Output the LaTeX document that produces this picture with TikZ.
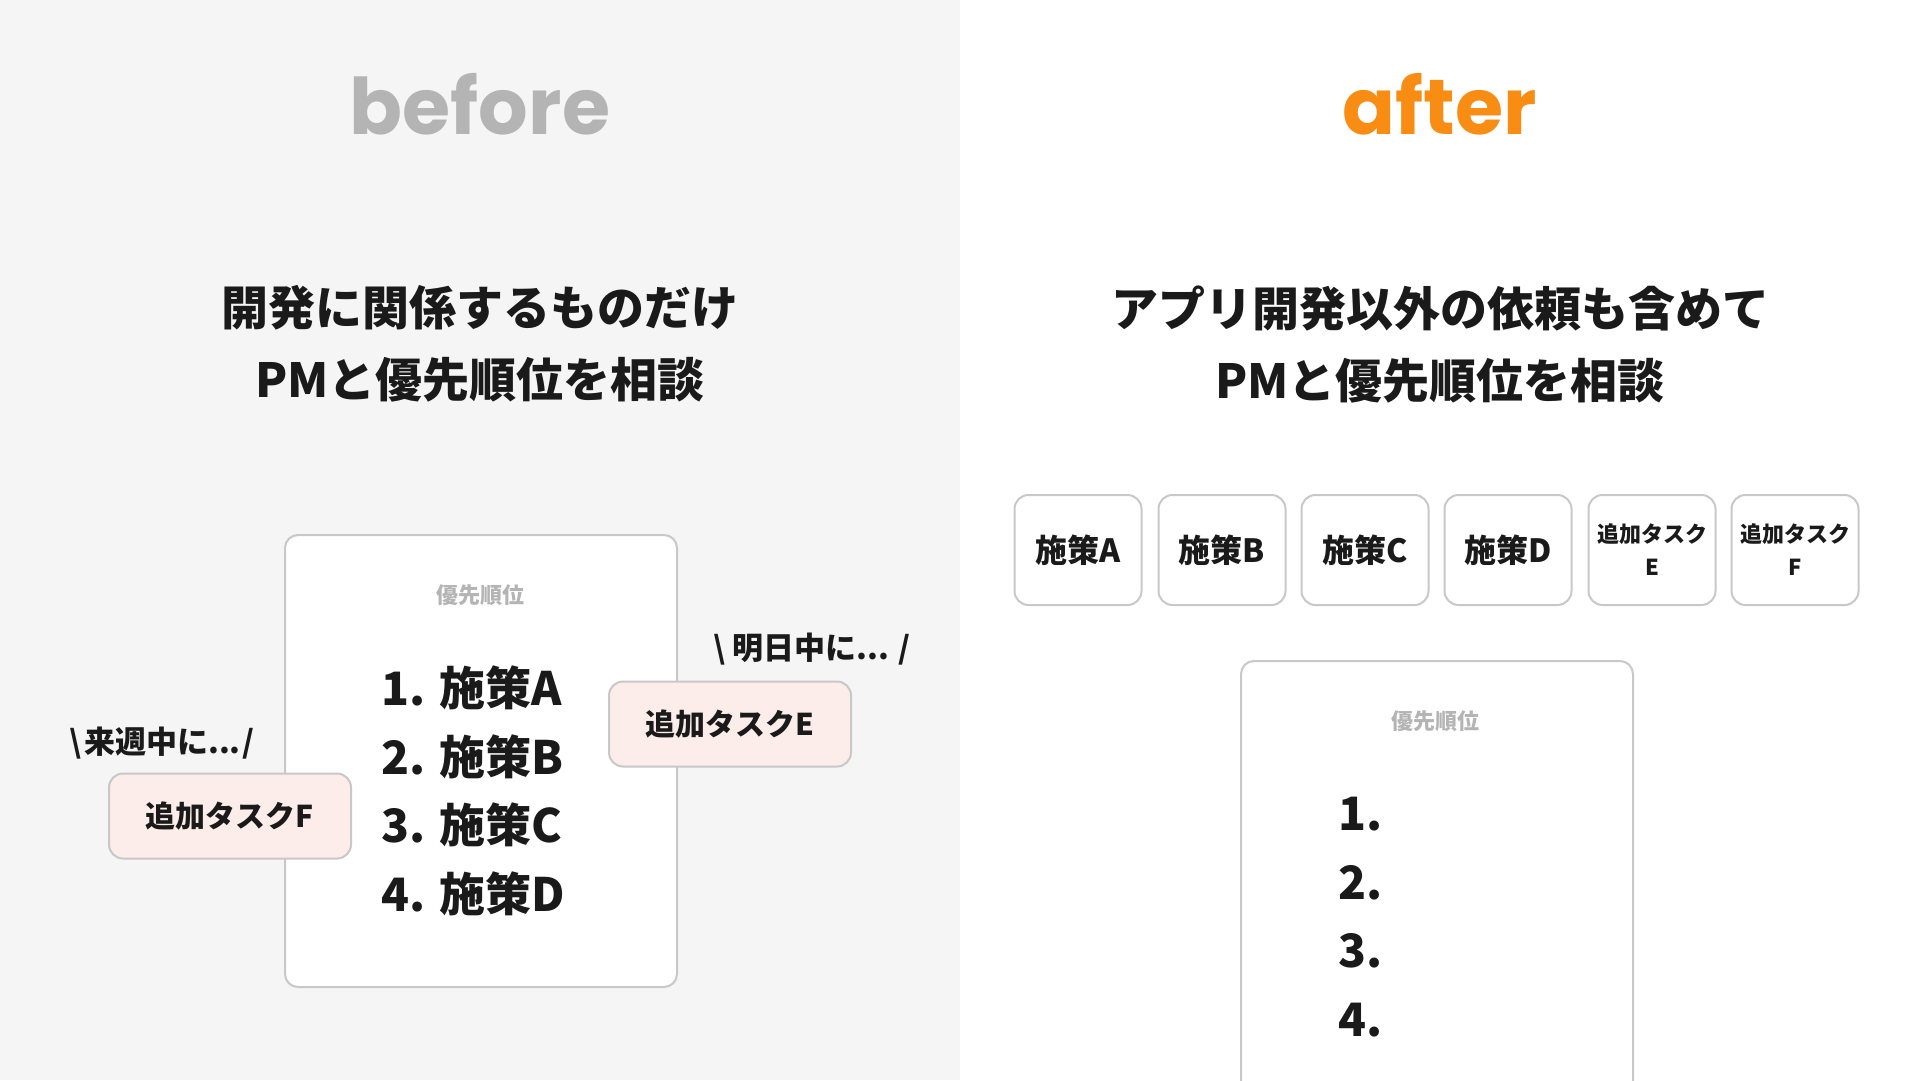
\documentclass[tikz,border=0pt]{standalone}
\usepackage{fontspec}
\setmainfont{Noto Sans CJK JP}
\newfontfamily\titlefont{Poppins}

\definecolor{leftbg}{HTML}{F5F5F5}
\definecolor{ink}{HTML}{1A1A1A}
\definecolor{edge}{HTML}{C8C8C8}
\definecolor{faint}{HTML}{B4B4B4}
\definecolor{pinkfill}{HTML}{FCEDEA}
\definecolor{aftercol}{HTML}{F98C12}

\tikzset{
  headline/.style={font=\bfseries\fontsize{47}{72}\selectfont, align=center, text=ink},
  prio/.style={draw=edge, line width=2pt, fill=white, rounded corners=13pt,
    minimum width=392pt, minimum height=452pt, inner sep=0pt},
  priolabel/.style={font=\bfseries\fontsize{22}{26}\selectfont, text=faint},
  rankline/.style={anchor=west, font=\bfseries\fontsize{46}{50}\selectfont, text=ink},
  extratask/.style={draw=edge, line width=2pt, fill=pinkfill, rounded corners=14pt,
    minimum width=242pt, minimum height=85pt, inner sep=0pt,
    font=\bfseries\fontsize{30}{34}\selectfont, text=ink},
  voice/.style={font=\bfseries\fontsize{31}{34}\selectfont, text=ink},
  card/.style={draw=edge, line width=2pt, fill=white, rounded corners=14pt,
    minimum width=127pt, minimum height=110pt, inner sep=0pt, align=center,
    font=\bfseries\fontsize{32}{36}\selectfont, text=ink},
  smallcard/.style={card, font=\bfseries\fontsize{22}{33}\selectfont}
}

\begin{document}
\begin{tikzpicture}[x=1pt, y=-1pt]
    \clip (0,0) rectangle (1920,1080);
    \fill[leftbg] (0,0) rectangle (960,1080);
    \fill[white]  (960,0) rectangle (1920,1080);

    % before
    \node[font=\titlefont\bfseries\fontsize{78}{80}\selectfont, text=faint] (beforetitle) at (480,104) {before};
    \node[headline] (beforehead) at (480,344) {開発に関係するものだけ\\PMと優先順位を相談};

    \node[prio] (beforebox) at (481,761) {};
    \node[priolabel] (beforelabel) at (480,595) {優先順位};
    \node[rankline] (rankA) at (378,688) {1. 施策A};
    \node[rankline] (rankB) at (378,757) {2. 施策B};
    \node[rankline] (rankC) at (378,825) {3. 施策C};
    \node[rankline] (rankD) at (378,894) {4. 施策D};

    \node[extratask] (taskF) at (230,816) {追加タスクF};
    \node[voice] (voiceF) at (162,743) {\textbackslash\kern3pt 来週中に...\kern2pt/};
    \node[extratask] (taskE) at (730,724) {追加タスクE};
    \node[voice] (voiceE) at (812,649) {\textbackslash{} 明日中に... /};

    % after
    \node[font=\titlefont\bfseries\fontsize{78}{80}\selectfont, text=aftercol] (aftertitle) at (1440,104) {after};
    \node[headline] (afterhead) at (1440,344) {アプリ開発以外の依頼も含めて\\PMと優先順位を相談};

    \node[card] (cardA) at (1078,550) {施策A};
    \node[card] (cardB) at (1222,550) {施策B};
    \node[card] (cardC) at (1365,550) {施策C};
    \node[card] (cardD) at (1508,550) {施策D};
    \node[smallcard] (cardE) at (1652,550) {追加タスク\\E};
    \node[smallcard] (cardF) at (1795,550) {追加タスク\\F};

    \node[prio] (afterbox) at (1437,887) {};
    \node[priolabel] (afterlabel) at (1435,721) {優先順位};
    \node[rankline] (slot1) at (1335,814) {1.};
    \node[rankline] (slot2) at (1335,883) {2.};
    \node[rankline] (slot3) at (1335,951) {3.};
    \node[rankline] (slot4) at (1335,1020) {4.};

\end{tikzpicture}
\end{document}
